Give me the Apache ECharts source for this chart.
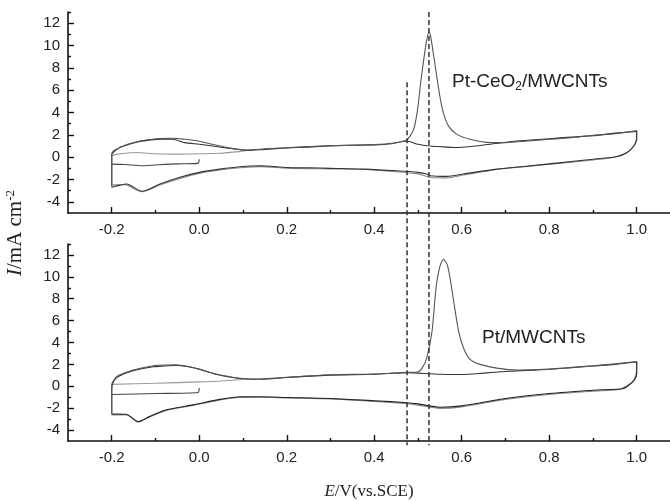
<!DOCTYPE html>
<html>
<head>
<meta charset="utf-8">
<script src="https://cdn.jsdelivr.net/npm/echarts@6.0.0/dist/echarts.min.js"></script>
<style>
html, body { margin: 0; padding: 0; background: #fff; }
#cv { width: 670px; height: 501px; }
</style>
</head>
<body>
<div id="cv"></div>
<script>
// ticks
var xMajor = [-0.2, 0.0, 0.2, 0.4, 0.6, 0.8, 1.0];
var xMinor = [-0.1, 0.1, 0.3, 0.5, 0.7, 0.9];
var yMajor = [-4, -2, 0, 2, 4, 6, 8, 10, 12];
var yMinor = [-3, -1, 1, 3, 5, 7, 9, 11, 13];

// dashed guide lines (E = 0.475 V and 0.525 V), drawn from the top panel down
var dashLow = [[0.475, 6.7], [0.475, -25.8]];
var dashHigh = [[0.525, 13], [0.525, -25.8]];

// Pt-CeO2/MWCNTs  [E, I]
var ceFwd1 = [[-0.2,-2.7],[-0.2,0.3],[-0.195,0.6],[-0.182,0.86],[-0.16,1.2],[-0.136,1.45],[-0.11,1.58],[-0.09,1.66],[-0.06,1.7],[-0.033,1.6],[0.0,1.42],[0.03,1.15],[0.062,0.88],[0.09,0.7],[0.11,0.64],[0.15,0.74],[0.2,0.85],[0.25,0.95],[0.3,1.05],[0.35,1.05],[0.4,1.12],[0.44,1.25],[0.474,1.55],[0.49,2.49],[0.499,4.27],[0.506,6.64],[0.514,9.0],[0.52,10.5],[0.525,11.23],[0.529,10.8],[0.535,9.3],[0.543,7.2],[0.55,5.45],[0.558,3.97],[0.57,2.78],[0.589,2.04],[0.619,1.6],[0.665,1.3],[0.7,1.3],[0.75,1.45],[0.8,1.6],[0.85,1.75],[0.9,1.96],[0.95,2.1],[1.0,2.38]];
var ceFwd2 = [[-0.2,-2.5],[-0.2,0.2],[-0.193,0.55],[-0.18,0.9],[-0.16,1.15],[-0.136,1.4],[-0.11,1.55],[-0.09,1.62],[-0.06,1.6],[-0.033,1.3],[0.0,1.16],[0.03,1.0],[0.062,0.82],[0.09,0.68],[0.11,0.6],[0.15,0.7],[0.2,0.82],[0.25,0.9],[0.3,1.0],[0.35,1.08],[0.4,1.1],[0.44,1.2],[0.474,1.45],[0.5,1.15],[0.527,1.0],[0.56,0.92],[0.589,0.86],[0.62,0.95],[0.665,1.16],[0.726,1.45],[0.8,1.65],[0.85,1.8],[0.9,1.92],[0.95,2.15],[1.0,2.3]];
var ceRev1 = [[1.0,2.38],[1.0,1.6],[0.993,1.0],[0.978,0.42],[0.955,0.06],[0.9,-0.18],[0.833,-0.47],[0.757,-0.77],[0.68,-1.07],[0.604,-1.51],[0.566,-1.72],[0.528,-1.66],[0.52,-1.5],[0.5,-1.36],[0.451,-1.22],[0.375,-1.07],[0.3,-1.0],[0.25,-0.95],[0.2,-0.92],[0.139,-0.77],[0.093,-0.86],[0.047,-1.07],[0.0,-1.36],[-0.044,-1.8],[-0.09,-2.4],[-0.131,-3.05],[-0.166,-2.4],[-0.185,-2.55],[-0.2,-2.7]];
var ceRev2 = [[1.0,2.3],[0.998,1.4],[0.99,0.8],[0.975,0.35],[0.95,0.0],[0.9,-0.25],[0.833,-0.52],[0.757,-0.8],[0.68,-1.1],[0.604,-1.6],[0.566,-1.85],[0.53,-1.82],[0.5,-1.5],[0.451,-1.3],[0.375,-1.1],[0.3,-1.05],[0.2,-0.98],[0.139,-0.85],[0.093,-0.95],[0.047,-1.15],[0.0,-1.45],[-0.044,-1.9],[-0.09,-2.5],[-0.131,-3.1],[-0.166,-2.5],[-0.185,-2.45],[-0.2,-2.5]];
var ceStartA = [[-0.2,0.12],[-0.19,0.25],[-0.143,0.42],[-0.1,0.3],[-0.05,0.27],[0.0,0.3],[0.047,0.35],[0.09,0.5],[0.12,0.65]];
var ceStartB = [[0.0,-0.18],[-0.003,-0.56],[-0.05,-0.6],[-0.1,-0.7],[-0.13,-0.77],[-0.17,-0.65],[-0.2,-0.62]];

// Pt/MWCNTs  [E, I]
var ptFwd1 = [[-0.2,-2.6],[-0.2,0.08],[-0.195,0.6],[-0.185,0.98],[-0.151,1.48],[-0.105,1.87],[-0.08,1.95],[-0.052,1.96],[-0.025,1.8],[0.0,1.57],[0.038,1.12],[0.076,0.83],[0.107,0.68],[0.14,0.66],[0.2,0.83],[0.3,1.06],[0.4,1.12],[0.475,1.27],[0.499,1.3],[0.51,1.7],[0.52,2.6],[0.532,5.0],[0.541,8.9],[0.55,10.95],[0.558,11.6],[0.567,11.1],[0.575,9.47],[0.583,7.4],[0.593,5.0],[0.604,3.5],[0.619,2.46],[0.642,2.0],[0.68,1.66],[0.726,1.48],[0.8,1.57],[0.9,1.87],[0.95,2.05],[1.0,2.26]];
var ptFwd2 = [[-0.2,-2.4],[-0.2,-0.2],[-0.195,0.5],[-0.185,0.9],[-0.151,1.42],[-0.105,1.78],[-0.08,1.85],[-0.052,1.9],[-0.025,1.78],[0.0,1.55],[0.038,1.1],[0.076,0.8],[0.107,0.66],[0.14,0.64],[0.2,0.8],[0.3,1.02],[0.4,1.1],[0.475,1.25],[0.5,1.2],[0.55,1.1],[0.6,1.08],[0.65,1.2],[0.7,1.35],[0.75,1.45],[0.8,1.55],[0.9,1.85],[0.95,2.0],[1.0,2.22]];
var ptRev1 = [[1.0,2.26],[1.0,1.2],[0.995,0.6],[0.985,0.2],[0.97,-0.2],[0.9,-0.36],[0.8,-0.66],[0.7,-1.11],[0.6,-1.79],[0.55,-1.91],[0.5,-1.61],[0.475,-1.5],[0.4,-1.32],[0.3,-1.11],[0.2,-1.02],[0.14,-0.96],[0.093,-0.96],[0.047,-1.2],[-0.014,-1.7],[-0.075,-2.15],[-0.113,-2.75],[-0.14,-3.25],[-0.166,-2.6],[-0.2,-2.6]];
var ptRev2 = [[1.0,2.2],[0.998,1.0],[0.99,0.4],[0.975,0.0],[0.96,-0.3],[0.9,-0.45],[0.8,-0.75],[0.7,-1.2],[0.6,-1.88],[0.55,-2.02],[0.5,-1.72],[0.475,-1.6],[0.4,-1.38],[0.3,-1.15],[0.2,-1.06],[0.14,-1.0],[0.093,-1.02],[0.047,-1.25],[-0.014,-1.75],[-0.075,-2.2],[-0.113,-2.8],[-0.14,-3.2],[-0.166,-2.55],[-0.2,-2.5]];
var ptStartA = [[-0.2,0.17],[-0.1,0.28],[0.0,0.4],[0.05,0.48],[0.1,0.62]];
var ptStartB = [[0.0,-0.16],[-0.003,-0.57],[-0.1,-0.66],[-0.2,-0.75]];

var sans = 'Liberation Sans';
var serif = 'Liberation Serif';

function xAxisOf(g, ticks, len, main) {
    return {
        type: 'value', gridIndex: g, position: 'bottom', min: -0.3, max: 1.076,
        axisLine: { show: main, onZero: false, lineStyle: { color: '#111', width: 1.6 } },
        axisTick: { show: true, inside: true, length: len, customValues: ticks,
            lineStyle: { color: '#111', width: 1.4 } },
        axisLabel: { show: main, customValues: ticks, margin: 9, color: '#222',
            fontFamily: sans, fontSize: 15,
            formatter: function (v) { return v.toFixed(1); } },
        splitLine: { show: false }
    };
}

function yAxisOf(g, ticks, len, main) {
    return {
        type: 'value', gridIndex: g, position: 'left', min: -5, max: 13,
        axisLine: { show: main, onZero: false, lineStyle: { color: '#111', width: 1.6 } },
        axisTick: { show: true, inside: true, length: len, customValues: ticks,
            lineStyle: { color: '#111', width: 1.4 } },
        axisLabel: { show: main, customValues: ticks, margin: 8, color: '#222',
            fontFamily: sans, fontSize: 15 },
        splitLine: { show: false }
    };
}

function curve(data, g, color, width) {
    return {
        type: 'line', data: data, xAxisIndex: g * 2, yAxisIndex: g * 2,
        symbol: 'none', smooth: 0.25, silent: true,
        lineStyle: { color: color, width: width || 1.1 }
    };
}

function dash(data) {
    return {
        type: 'line', data: data, xAxisIndex: 0, yAxisIndex: 0,
        symbol: 'none', clip: false, silent: true, z: 5,
        lineStyle: { color: '#333', width: 1.5, type: [5, 3] }
    };
}

var xBottom = xAxisOf(1, xMajor, 6, true);
xBottom.name = '{i|E}{n|/V(vs.SCE)}';
xBottom.nameLocation = 'middle';
xBottom.nameGap = 42;
xBottom.nameTextStyle = {
    rich: {
        i: { fontFamily: serif, fontSize: 17, fontStyle: 'italic', color: '#222' },
        n: { fontFamily: serif, fontSize: 17, color: '#222' }
    }
};

var option = {
    animation: false,
    backgroundColor: '#fff',
    grid: [
        { left: 68, top: 12, width: 602, height: 201 },
        { left: 68, top: 244, width: 602, height: 201 }
    ],
    xAxis: [
        xAxisOf(0, xMajor, 6, true),
        xAxisOf(0, xMinor, 3, false),
        xBottom,
        xAxisOf(1, xMinor, 3, false)
    ],
    yAxis: [
        yAxisOf(0, yMajor, 6, true),
        yAxisOf(0, yMinor, 3, false),
        yAxisOf(1, yMajor, 6, true),
        yAxisOf(1, yMinor, 3, false)
    ],
    graphic: [
        {
            type: 'text', x: 15, y: 233, rotation: Math.PI / 2,
            style: {
                text: '{i|I}{n|/mA cm}{s|-2}',
                align: 'center', verticalAlign: 'middle',
                rich: {
                    i: { fontFamily: serif, fontSize: 21, fontStyle: 'italic', fill: '#222' },
                    n: { fontFamily: serif, fontSize: 21, fill: '#222' },
                    s: { fontFamily: serif, fontSize: 13, fill: '#222', verticalAlign: 'top' }
                }
            }
        },
        {
            type: 'text', x: 452, y: 82,
            style: {
                text: '{n|Pt-CeO}{s|2}{n|/MWCNTs}',
                align: 'left', verticalAlign: 'middle',
                rich: {
                    n: { fontFamily: sans, fontSize: 19, fill: '#222', lineHeight: 22 },
                    s: { fontFamily: sans, fontSize: 12, fill: '#222', verticalAlign: 'bottom', lineHeight: 12 }
                }
            }
        },
        {
            type: 'text', x: 482, y: 338,
            style: {
                text: 'Pt/MWCNTs', align: 'left', verticalAlign: 'middle',
                fontFamily: sans, fontSize: 19, fill: '#222'
            }
        }
    ],
    series: [
        curve(ceRev2, 0, '#888'),
        curve(ceStartA, 0, '#999'),
        curve(ceStartB, 0, '#444'),
        curve(ceFwd2, 0, '#333'),
        curve(ceRev1, 0, '#333'),
        curve(ceFwd1, 0, '#555'),
        curve(ptRev2, 1, '#888'),
        curve(ptStartA, 1, '#999'),
        curve(ptStartB, 1, '#444'),
        curve(ptFwd2, 1, '#333'),
        curve(ptRev1, 1, '#222'),
        curve(ptFwd1, 1, '#555'),
        dash(dashLow),
        dash(dashHigh)
    ]
};

var chart = echarts.init(document.getElementById('cv'));
chart.setOption(option);
</script>
</body>
</html>
